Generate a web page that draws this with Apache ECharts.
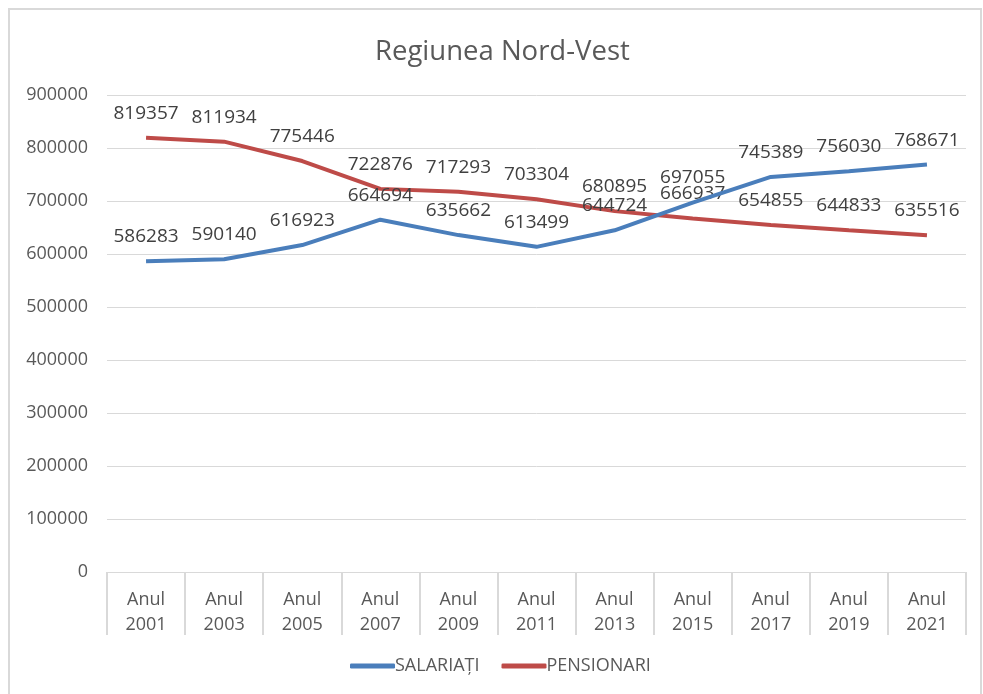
<!DOCTYPE html>
<html>
<head>
<meta charset="utf-8">
<script src="https://cdn.jsdelivr.net/npm/echarts@6/dist/echarts.min.js"></script>
<style>
  html, body { margin: 0; padding: 0; background: #fff; }
  #chart { width: 983px; height: 694px; }
</style>
</head>
<body>
<div id="chart"></div>
<script>
// date
const ani = ["Anul\n2001", "Anul\n2003", "Anul\n2005", "Anul\n2007", "Anul\n2009", "Anul\n2011",
  "Anul\n2013", "Anul\n2015", "Anul\n2017", "Anul\n2019", "Anul\n2021"];
const salariati = [586283, 590140, 616923, 664694, 635662, 613499, 644724, 697055, 745389, 756030, 768671];
const pensionari = [819357, 811934, 775446, 722876, 717293, 703304, 680895, 666937, 654855, 644833, 635516];

const font = "'Open Sans', 'Noto Sans', sans-serif";
const grey = "#595959";

const chart = echarts.init(document.getElementById("chart"));

const labelCfg = {
  show: true,
  position: "top",
  distance: 15,
  fontFamily: font,
  fontSize: 19,
  color: "#404040"
};

chart.setOption({
  backgroundColor: "#fff",
  animation: false,
  title: {
    text: "Regiunea Nord-Vest",
    left: 370,
    top: 33,
    textStyle: { fontFamily: font, fontSize: 27.5, fontWeight: "normal", color: grey }
  },
  graphic: [{
    type: "rect",
    shape: { x: 9, y: 9, width: 972, height: 720 },
    style: { fill: "none", stroke: "#d9d9d9", lineWidth: 2 },
    silent: true
  }],
  legend: {
    bottom: 14,
    left: 345,
    icon: "roundRect",
    itemWidth: 45,
    itemHeight: 5,
    itemGap: 22,
    textStyle: { fontFamily: font, fontSize: 18, color: grey, padding: [0, 0, 0, -5] },
    data: ["SALARIAȚI", "PENSIONARI"]
  },
  grid: { left: 107, right: 17, top: 95, bottom: 122 },
  xAxis: {
    type: "category",
    data: ani,
    boundaryGap: true,
    axisLine: { lineStyle: { color: "#d9d9d9", width: 1 } },
    axisTick: { show: true, length: 63, interval: 0, lineStyle: { color: "#d9d9d9", width: 2 } },
    axisLabel: { interval: 0, margin: 15, fontFamily: font, fontSize: 18, lineHeight: 25, color: grey }
  },
  yAxis: {
    type: "value",
    min: 0,
    max: 900000,
    interval: 100000,
    axisLine: { show: false },
    axisTick: { show: false },
    axisLabel: { margin: 19, fontFamily: font, fontSize: 18, color: grey, formatter: v => String(v) },
    splitLine: { lineStyle: { color: "#d9d9d9", width: 1 } }
  },
  series: [
    {
      name: "SALARIAȚI",
      type: "line",
      data: salariati,
      symbol: "circle",
      symbolSize: 0,
      showSymbol: true,
      color: "#4a7ebb",
      lineStyle: { width: 4, color: "#4a7ebb" },
      label: labelCfg,
      labelLayout: { hideOverlap: false },
      z: 3
    },
    {
      name: "PENSIONARI",
      type: "line",
      data: pensionari,
      symbol: "circle",
      symbolSize: 0,
      showSymbol: true,
      color: "#be4b48",
      lineStyle: { width: 4, color: "#be4b48" },
      label: labelCfg,
      labelLayout: { hideOverlap: false },
      z: 2
    }
  ]
});
</script>
</body>
</html>
